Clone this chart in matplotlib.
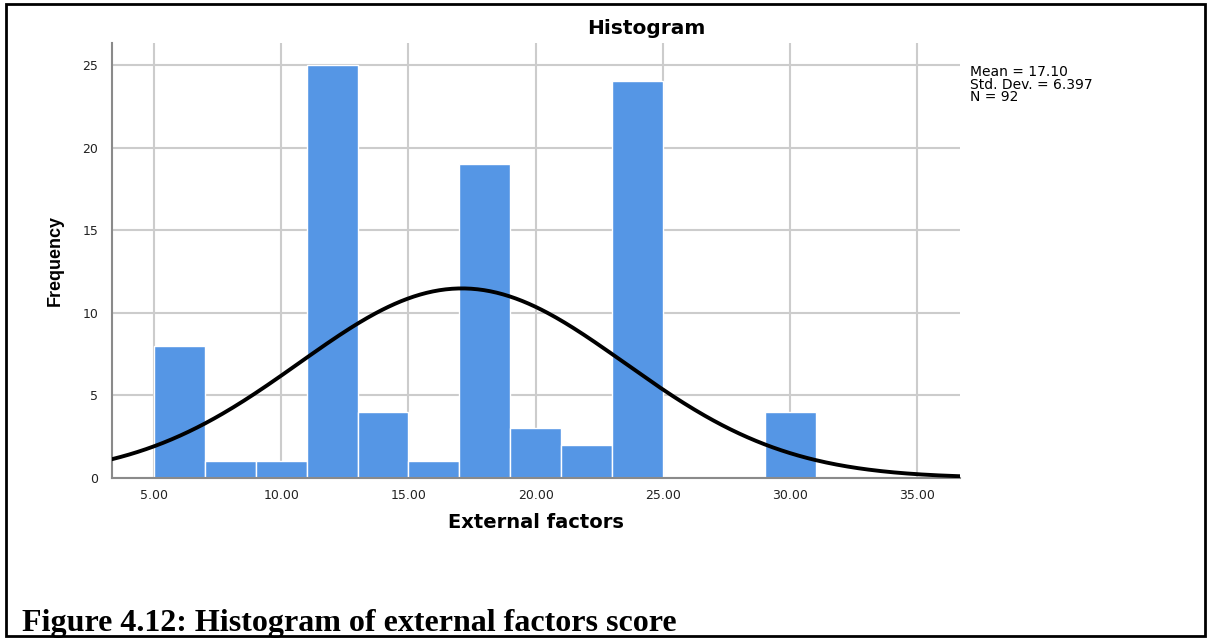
import numpy as np
import matplotlib.pyplot as plt
from matplotlib.patches import Rectangle

# histogram of external factors score
bin_left = [5, 7, 9, 11, 13, 15, 17, 19, 21, 23, 25, 27, 29]
counts = [8, 1, 1, 25, 4, 1, 19, 3, 2, 24, 0, 0, 4]
bin_width = 2
mean = 17.10
std_dev = 6.397
n_obs = 92
x_ticks = [5, 10, 15, 20, 25, 30, 35]
y_ticks = [0, 5, 10, 15, 20, 25]

plt.rcParams['font.family'] = ['DejaVu Sans']

fig = plt.figure(figsize=(12.08, 6.39), dpi=100)
ax = fig.add_axes([112 / 1208, 1 - 478 / 639, 848 / 1208, 435 / 639])

ax.bar(bin_left, counts, width=bin_width, align='edge', color='#5596E5',
       edgecolor='white', linewidth=1.0, zorder=2)

xmin, xmax = 3.35, 36.67
xs = np.linspace(xmin, xmax, 400)
pdf = np.exp(-0.5 * ((xs - mean) / std_dev) ** 2) / (std_dev * np.sqrt(2 * np.pi))
ax.plot(xs, pdf * n_obs * bin_width, color='black', lw=2.8, zorder=3)

ax.set_xlim(xmin, xmax)
ax.set_ylim(0, 26.33)
ax.set_xticks(x_ticks)
ax.set_xticklabels([f'{t:.2f}' for t in x_ticks])
ax.set_yticks(y_ticks)
ax.tick_params(length=0, labelsize=9, colors='#222222')
ax.tick_params(axis='x', pad=8)
ax.tick_params(axis='y', pad=10)
ax.grid(True, color='#cccccc', lw=1.5, zorder=0)
ax.set_axisbelow(True)
for s in ['top', 'right']:
    ax.spines[s].set_visible(False)
for s in ['left', 'bottom']:
    ax.spines[s].set_color('#8a8a8a')
    ax.spines[s].set_linewidth(1.5)

fig.text(646 / 1208, 1 - 29 / 639, 'Histogram', ha='center', va='center',
         fontsize=14.5, fontweight='bold')
fig.text(536 / 1208, 1 - 522 / 639, 'External factors', ha='center', va='center',
         fontsize=14, fontweight='bold')
fig.text(55 / 1208, 1 - 260 / 639, 'Frequency', rotation=90, ha='center',
         va='center', fontsize=13, fontweight='bold',
         family=['Liberation Sans', 'DejaVu Sans'])

fig.text(970 / 1208, 1 - 65 / 639,
         f'Mean = {mean:.2f}\nStd. Dev. = {std_dev:.3f}\nN = {n_obs}',
         ha='left', va='top', fontsize=10, linespacing=0.88)

fig.text(22 / 1208, 1 - 631 / 639, 'Figure 4.12: Histogram of external factors score',
         ha='left', va='baseline', fontsize=23, fontweight='bold',
         family=['Liberation Serif', 'DejaVu Serif'])

# frame around the whole figure
fig.patches.append(Rectangle((6 / 1208, 3 / 639), 1199 / 1208, 632 / 639,
                             transform=fig.transFigure, fill=False,
                             edgecolor='black', lw=2))

fig.savefig('out.png', dpi=100)
